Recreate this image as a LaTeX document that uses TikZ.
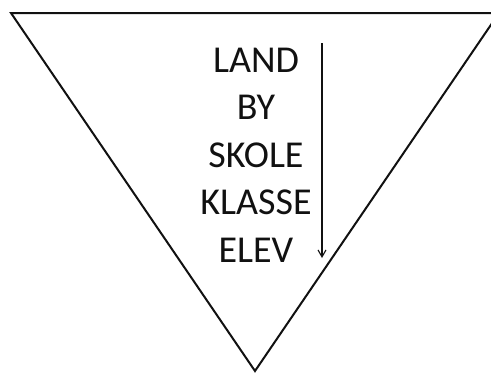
\documentclass[tikz,border=0pt]{standalone}
\usepackage{fontspec}
\setmainfont{Carlito}
\usetikzlibrary{arrows.meta}
\definecolor{lvblack}{HTML}{111111}
\tikzset{
  funnel/.style ={draw=lvblack, line width=2pt, line join=miter},
  word/.style   ={font=\fontsize{38}{38}\selectfont, text=lvblack, inner sep=0pt, anchor=center},
  downarr/.style={-{Straight Barb[length=7pt,width=8pt]}, draw=lvblack, line width=1.1pt},
}

\begin{document}
\begin{tikzpicture}[x=1pt,y=-1pt]
  \useasboundingbox (0,0) rectangle (491,373);
  \clip (0,0) rectangle (491,373);
  % inverted triangle
  \draw[funnel] (11,13) -- (499,13) -- (255,371) -- cycle;
  % levels
  \foreach \w [count=\i] in {LAND,BY,SKOLE,KLASSE,ELEV}
    \node[word] (w\i) at (256,{12.5+47.5*\i}) {\w};
  \coordinate (arrtop) at (322,43);
  \coordinate (arrbot) at (322,258);
  \draw[downarr] (arrtop) -- (arrbot);
\end{tikzpicture}
\end{document}
